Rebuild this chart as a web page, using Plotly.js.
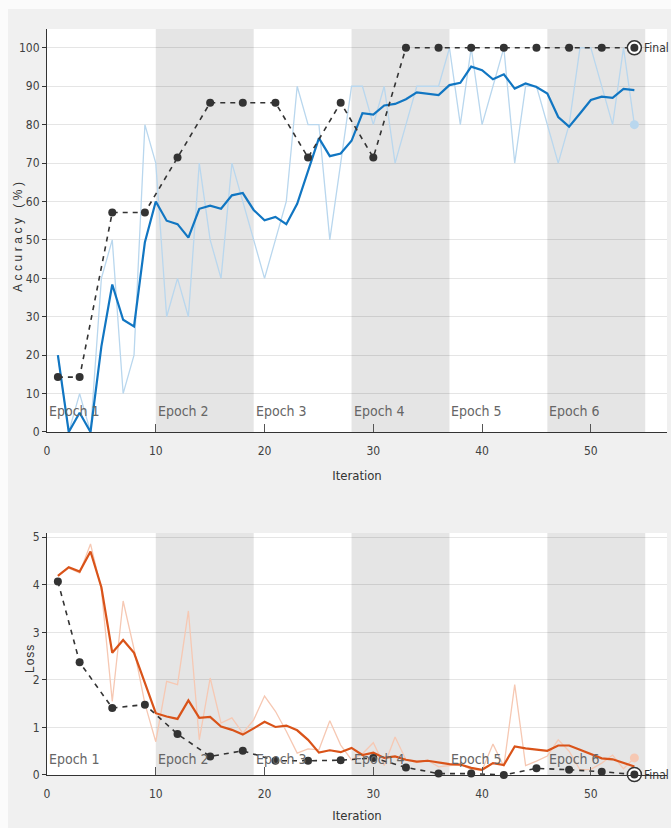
<!DOCTYPE html>
<html><head><meta charset="utf-8">
<script src="https://cdn.plot.ly/plotly-3.0.1.min.js"></script>
<style>html,body{margin:0;padding:0;background:#f0f0f0;}#chart{width:671px;height:828px;}</style>
</head><body><div id="chart"></div>
<script>
// ---- data ----
const iterations = [1,2,3,4,5,6,7,8,9,10,11,12,13,14,15,16,17,18,19,20,21,22,23,24,25,26,27,28,29,30,31,32,33,34,35,36,37,38,39,40,41,42,43,44,45,46,47,48,49,50,51,52,53,54];
const rawAcc = [20,0,10,0,40,50,10,20,80,70,30,40,30,70,50,40,70,60,50,40,50,60,90,80,80,50,70,90,90,80,90,70,80,90,90,90,100,80,100,80,90,100,70,90,90,80,70,80,100,100,90,80,100,80];
const smoothAcc = [20,0,5,0,22.3,38.4,29.2,27.5,49.4,60,55,54.1,50.6,58.1,58.9,58.1,61.6,62.2,57.8,55.1,56,54.1,59.4,68,76.5,71.8,72.5,75.8,83,82.6,85,85.4,86.6,88.4,88.1,87.7,90.3,90.9,95.1,94.2,91.8,93.1,89.4,90.7,89.8,88.1,82,79.5,82.9,86.4,87.3,87,89.3,89];
const valIter = [1,3,6,9,12,15,18,21,24,27,30,33,36,39,42,45,48,51,54];
const valAcc = [14.29,14.29,57.14,57.14,71.43,85.71,85.71,85.71,71.43,85.71,71.43,100,100,100,100,100,100,100,100];
const rawLoss = [4.19,4.35,4.25,4.86,3.9,1.55,3.66,2.65,1.5,0.7,1.97,1.9,3.45,0.74,2.04,1.09,1.2,0.88,1.16,1.66,1.34,0.92,0.46,0.55,0.53,1.14,0.63,0.32,0.45,0.68,0.2,0.8,0.32,0.26,0.31,0.17,0.2,0.22,0.12,0.1,0.65,0.18,1.9,0.2,0.29,0.4,0.74,0.5,0.11,0.12,0.25,0.42,0.13,0.36];
const smoothLoss = [4.19,4.37,4.28,4.70,3.95,2.57,2.84,2.57,1.94,1.30,1.23,1.18,1.57,1.20,1.22,1.02,0.95,0.85,0.98,1.12,1.01,1.04,0.94,0.74,0.47,0.52,0.48,0.57,0.42,0.47,0.36,0.39,0.32,0.28,0.30,0.26,0.23,0.22,0.15,0.11,0.25,0.21,0.60,0.56,0.54,0.51,0.62,0.62,0.53,0.44,0.35,0.33,0.25,0.18];
const valLoss = [4.07,2.37,1.41,1.48,0.86,0.39,0.51,0.30,0.30,0.31,0.36,0.16,0.03,0.03,0.0,0.14,0.11,0.07,0.01];
const epochLabels = ['Epoch 1','Epoch 2','Epoch 3','Epoch 4','Epoch 5','Epoch 6'];
const epochStart = [0,10,19,28,37,46];
const epochEnd = [10,19,28,37,46,55];
const xTicks = [0,10,20,30,40,50];
const finalLabel = 'Final';
const accTitle = 'Accuracy (%)', lossTitle = 'Loss', iterTitle = 'Iteration';

// ---- styles ----
const NARROW = '"Liberation Sans Narrow","Arial Narrow","DejaVu Sans Condensed","Liberation Sans",Arial,sans-serif';
const REG = '"Liberation Sans",Arial,sans-serif';
const C_SMOOTH_ACC = '#1176c2', C_RAW_ACC = '#b9d7ee';
const C_SMOOTH_LOSS = '#d95319', C_RAW_LOSS = '#f6c8b3';
const C_VAL = '#333333';
const last = a => a[a.length-1];

function panelTraces(xa, ya, raw, smooth, val, cRaw, cSmooth) {
  return [
    {x: iterations, y: raw, xaxis: xa, yaxis: ya, mode: 'lines', line: {color: cRaw, width: 1.3}},
    {x: iterations, y: smooth, xaxis: xa, yaxis: ya, mode: 'lines', line: {color: cSmooth, width: 2.2}, cliponaxis: false},
    {x: [last(iterations)], y: [last(raw)], xaxis: xa, yaxis: ya, mode: 'markers', marker: {color: cRaw, size: 9}, cliponaxis: false},
    {x: valIter, y: val, xaxis: xa, yaxis: ya, mode: 'lines', line: {color: C_VAL, width: 1.6, dash: '5px,5px'}, cliponaxis: false},
    {x: [last(valIter)], y: [last(val)], xaxis: xa, yaxis: ya, mode: 'markers', marker: {color: '#ffffff', size: 14, line: {color: C_VAL, width: 1.5}}, cliponaxis: false},
    {x: valIter, y: val, xaxis: xa, yaxis: ya, mode: 'markers', marker: {color: C_VAL, size: 8}, cliponaxis: false}
  ];
}
const data = [].concat(
  panelTraces('x', 'y', rawAcc, smoothAcc, valAcc, C_RAW_ACC, C_SMOOTH_ACC),
  panelTraces('x2', 'y2', rawLoss, smoothLoss, valLoss, C_RAW_LOSS, C_SMOOTH_LOSS)
);
data.forEach(t => { t.showlegend = false; });

const shapes = [];
const annotations = [];
[['x','y'],['x2','y2']].forEach(([xa, ya], p) => {
  epochStart.forEach((s, i) => {
    if (i % 2 === 1) {
      shapes.push({type: 'rect', xref: xa, yref: ya + ' domain', x0: s, x1: epochEnd[i], y0: 0, y1: 1,
        fillcolor: '#e5e5e5', line: {width: 0}, layer: 'below'});
    }
    annotations.push({xref: xa, yref: ya + ' domain', x: s, y: p === 0 ? 0.052 : 0.068, xanchor: 'left', yanchor: 'middle',
      xshift: 0, text: epochLabels[i], showarrow: false, font: {family: NARROW, size: 14, color: '#666666'}});
  });
});
annotations.push({xref: 'x', yref: 'y', x: last(valIter), y: last(valAcc), xanchor: 'left', yanchor: 'middle', xshift: 8,
  text: finalLabel, showarrow: false, font: {family: NARROW, size: 12, color: '#333333'}});
annotations.push({xref: 'x2', yref: 'y2', x: last(valIter), y: last(valLoss), xanchor: 'left', yanchor: 'middle', xshift: 8,
  text: finalLabel, showarrow: false, font: {family: NARROW, size: 12, color: '#333333'}});
// y-axis titles (letter-spaced like the reference)
annotations.push({xref: 'paper', yref: 'paper', x: -0.0468, y: 0.724, xanchor: 'center', yanchor: 'middle', textangle: -90,
  text: '<span style="letter-spacing:3.5px">' + accTitle + '</span>', showarrow: false, font: {family: REG, size: 12, color: '#333333'}});
annotations.push({xref: 'paper', yref: 'paper', x: -0.0274, y: 0.1555, xanchor: 'center', yanchor: 'middle', textangle: -90,
  text: '<span style="letter-spacing:1px">' + lossTitle + '</span>', showarrow: false, font: {family: REG, size: 12, color: '#333333'}});
// light frame strips at top / left of the window
shapes.push({type: 'rect', xref: 'paper', yref: 'paper', x0: -0.1, x1: 1.1, y0: 1.0268, y1: 1.1, fillcolor: '#fbfbfb', line: {width: 0}, layer: 'above'});
shapes.push({type: 'rect', xref: 'paper', yref: 'paper', x0: -0.1, x1: -0.0629, y0: -0.1, y1: 1.1, fillcolor: '#fbfbfb', line: {width: 0}, layer: 'above'});

const xAxisBase = {range: [0, 57], tickvals: xTicks, ticks: 'inside', ticklen: 8, tickcolor: '#555555', showline: true,
  linecolor: '#333333', linewidth: 1, showgrid: false, zeroline: false, fixedrange: true, ticklabelstandoff: 8,
  tickfont: {family: NARROW, size: 12, color: '#404040'},
  title: {text: iterTitle, font: {family: NARROW, size: 13, color: '#333333'}, standoff: 13}};
const yAxisBase = {ticks: 'outside', ticklen: 4, tickcolor: '#333333', showline: true, linecolor: '#333333', linewidth: 1,
  gridcolor: 'rgba(0,0,0,0.1)', zeroline: false, fixedrange: true,
  tickfont: {family: NARROW, size: 12, color: '#404040'}};

const layout = {
  width: 671, height: 828,
  margin: {l: 47, r: 4, t: 29, b: 53},
  paper_bgcolor: '#f0f0f0', plot_bgcolor: '#ffffff',
  showlegend: false,
  xaxis: Object.assign({}, xAxisBase, {anchor: 'y', domain: [0, 1]}),
  yaxis: Object.assign({}, yAxisBase, {anchor: 'x', domain: [0.4598, 1], range: [0, 104.9], dtick: 10}),
  xaxis2: Object.assign({}, xAxisBase, {anchor: 'y2', domain: [0, 1], title: {text: iterTitle, font: {family: NARROW, size: 13, color: '#333333'}, standoff: 10}}),
  yaxis2: Object.assign({}, yAxisBase, {anchor: 'x2', domain: [0, 0.3244], range: [0, 5.09], dtick: 1}),
  shapes: shapes,
  annotations: annotations
};
Plotly.newPlot('chart', data, layout, {displayModeBar: false, staticPlot: true});
</script></body></html>
